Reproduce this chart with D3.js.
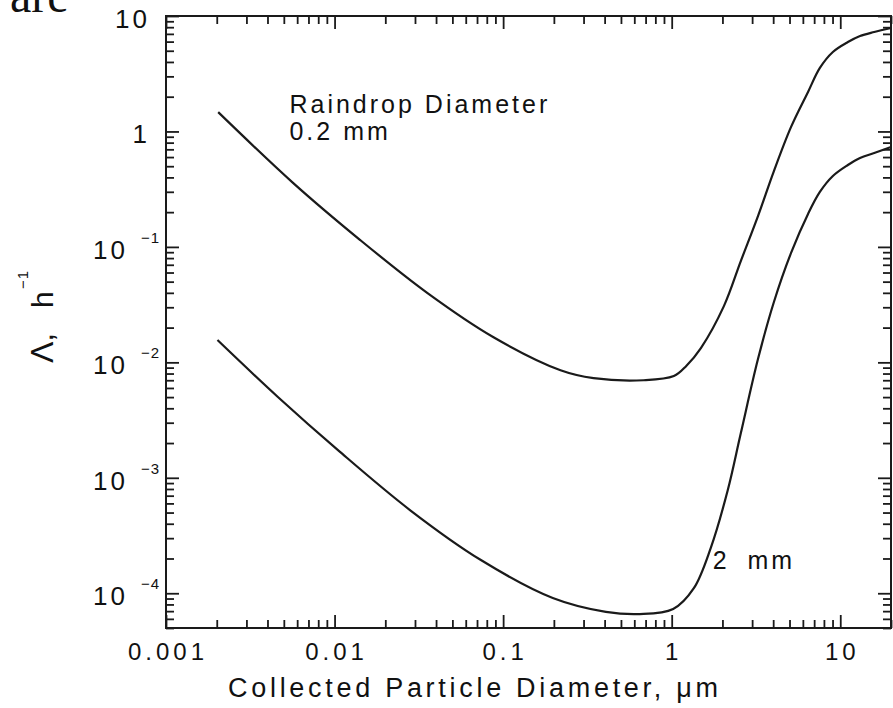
<!DOCTYPE html>
<html>
<head>
<meta charset="utf-8">
<script src="https://cdn.jsdelivr.net/npm/d3@7"></script>
<style>
    body { margin: 0; background: #fff; }
    svg { display: block; font-family: "Liberation Sans", Arial, sans-serif; }
    .frame { fill: none; stroke: #1a1a1a; stroke-width: 2; }
    .tick line { stroke: #1a1a1a; stroke-width: 1.8; }
    .curve { fill: none; stroke: #1a1a1a; stroke-width: 2.2; }
    text { fill: #111; }
</style>
</head>
<body>
<svg id="chart"></svg>
<script>
// axis ticks and labels
const xTickValues = [0.001, 0.01, 0.1, 1, 10];
const xTickLabels = ["0.001", "0.01", "0.1", "1", "10"];
const yTickValues = [10, 1, 0.1, 0.01, 0.001, 0.0001];
const yTickBase = ["10", "1", "10", "10", "10", "10"];
const yTickExp = ["", "", "−1", "−2", "−3", "−4"];

// 0.2 mm raindrop
const smallDropDiam = [0.00204, 0.00569, 0.0142, 0.0356, 0.0877, 0.219, 0.344, 0.682, 1.03, 1.22, 1.49, 2.04, 2.57, 3.25, 4.04, 5.10, 6.44, 7.57, 9.04, 11.1, 13.1, 15.9, 20];
const smallDropRate = [1.47, 0.357, 0.1146, 0.0398, 0.0165, 0.00855, 0.0073, 0.0070, 0.0076, 0.0093, 0.0133, 0.0307, 0.0753, 0.185, 0.454, 1.09, 2.20, 3.55, 4.88, 5.95, 6.71, 7.27, 7.87];

// 2 mm raindrop
const largeDropDiam = [0.00202, 0.00461, 0.0106, 0.0280, 0.0738, 0.197, 0.407, 0.647, 1.02, 1.35, 1.71, 2.15, 2.57, 3.25, 4.04, 5.10, 6.44, 7.57, 9.04, 11.1, 13.1, 15.9, 20];
const largeDropRate = [0.0156, 0.00501, 0.00171, 0.000526, 0.000194, 0.000091, 0.000069, 0.000066, 0.000073, 0.00011, 0.00025, 0.00078, 0.00243, 0.01067, 0.0333, 0.0883, 0.193, 0.299, 0.411, 0.512, 0.589, 0.65, 0.733];

class ScavengingChart {

    constructor(_config, _data) {
        this.config = {
            parentElement: _config.parentElement,
            containerWidth: _config.containerWidth || 893,
            containerHeight: _config.containerHeight || 708,
            margin: {top: 16, right: 2, bottom: 80, left: 166}
        }
        this.data = _data;
        this.initVis();
    }

    initVis() {
        let vis = this;
        let m = vis.config.margin;

        vis.width = vis.config.containerWidth - m.left - m.right;
        vis.height = vis.config.containerHeight - m.top - m.bottom;

        vis.xScale = d3.scaleLog()
            .domain([0.001, 20])
            .range([0, vis.width]);

        vis.yScale = d3.scaleLog()
            .domain([5e-5, 10])
            .range([vis.height, 0]);

        vis.svg = d3.select(vis.config.parentElement)
            .attr('width', vis.config.containerWidth)
            .attr('height', vis.config.containerHeight);

        // cut-off slide title at the top edge
        vis.svg.append('text')
            .attr('x', 10)
            .attr('y', 12)
            .style('font-family', '"Liberation Serif", serif')
            .style('font-size', '48px')
            .text('are');

        vis.chart = vis.svg.append('g')
            .attr('transform', `translate(${m.left},${m.top})`);

        vis.updateVis();
    }

    updateVis() {
        let vis = this;

        vis.xMinor = vis.xScale.ticks().filter(v => !xTickValues.some(t => Math.abs(t - v) / t < 1e-6));
        vis.yMinor = vis.yScale.ticks().filter(v => !yTickValues.some(t => Math.abs(t - v) / t < 1e-6));

        vis.renderVis();
    }

    renderVis() {
        let vis = this;
        const minorLen = 8, majorLen = 13;

        const addAxis = (axisFn, transform) => {
            [[vis.xMinor, vis.yMinor, minorLen], [xTickValues, yTickValues, majorLen]].forEach(([xv, yv, len]) => {
                const horizontal = axisFn === d3.axisBottom || axisFn === d3.axisTop;
                const scale = horizontal ? vis.xScale : vis.yScale;
                vis.chart.append('g')
                    .attr('transform', transform)
                    .call(axisFn(scale).tickValues(horizontal ? xv : yv).tickSize(-len).tickFormat(''))
                    .call(g => g.select('.domain').remove());
            });
        };

        addAxis(d3.axisBottom, `translate(0,${vis.height})`);
        addAxis(d3.axisTop, 'translate(0,0)');
        addAxis(d3.axisLeft, 'translate(0,0)');
        addAxis(d3.axisRight, `translate(${vis.width},0)`);

        vis.chart.append('rect')
            .attr('class', 'frame')
            .attr('width', vis.width)
            .attr('height', vis.height);

        // x tick labels
        vis.chart.selectAll('.x-label')
            .data(xTickValues)
            .join('text')
            .attr('class', 'x-label')
            .attr('x', d => vis.xScale(d) + 2)
            .attr('y', vis.height + 32)
            .attr('text-anchor', 'middle')
            .style('font-size', '24px')
            .style('letter-spacing', '4px')
            .text((d, i) => xTickLabels[i]);

        // y tick labels
        const yl = vis.chart.selectAll('.y-label')
            .data(yTickValues)
            .join('g')
            .attr('class', 'y-label')
            .attr('transform', d => `translate(0,${vis.yScale(d)})`);

        yl.append('text')
            .attr('x', (d, i) => yTickExp[i] ? -38 : -16)
            .attr('y', 12)
            .attr('text-anchor', 'end')
            .style('font-size', '26px')
            .style('letter-spacing', '3px')
            .text((d, i) => yTickBase[i]);

        yl.append('text')
            .attr('x', -25)
            .attr('y', -4)
            .style('font-size', '15px')
            .style('letter-spacing', '1px')
            .text((d, i) => yTickExp[i]);

        // curves
        const line = d3.line()
            .x(d => vis.xScale(d.x))
            .y(d => vis.yScale(d.y))
            .curve(d3.curveCatmullRom.alpha(0.5));

        vis.chart.selectAll('.curve')
            .data(vis.data)
            .join('path')
            .attr('class', 'curve')
            .attr('d', d => line(d.values));

        // curve annotations
        vis.chart.append('text')
            .attr('x', vis.xScale(0.0054))
            .attr('y', vis.yScale(1.445))
            .style('font-size', '25px')
            .style('letter-spacing', '3px')
            .text('Raindrop Diameter');

        vis.chart.append('text')
            .attr('x', vis.xScale(0.0054))
            .attr('y', vis.yScale(0.843))
            .style('font-size', '25px')
            .style('letter-spacing', '3px')
            .text('0.2 mm');

        vis.chart.append('text')
            .attr('x', vis.xScale(1.75))
            .attr('y', vis.yScale(1.62e-4))
            .style('font-size', '25px')
            .style('letter-spacing', '3px')
            .style('word-spacing', '8px')
            .text('2 mm');

        // axis titles
        vis.chart.append('text')
            .attr('x', 62)
            .attr('y', vis.height + 69)
            .attr('textLength', 490)
            .attr('lengthAdjust', 'spacing')
            .style('font-size', '27px')
            .text('Collected Particle Diameter, μm');

        const yTitle = vis.svg.append('g')
            .attr('transform', 'translate(53,0) rotate(-90)');

        yTitle.append('text')
            .attr('x', -363)
            .attr('y', 0)
            .style('font-size', '32px')
            .text('Λ,');

        yTitle.append('text')
            .attr('x', -308)
            .attr('y', 0)
            .style('font-size', '30px')
            .text('h');

        yTitle.append('text')
            .attr('x', -289)
            .attr('y', -25)
            .style('font-size', '15px')
            .style('letter-spacing', '1px')
            .text('−1');
    }
}

const chartData = [
    {name: '0.2 mm', values: smallDropDiam.map((x, i) => ({x: x, y: smallDropRate[i]}))},
    {name: '2 mm', values: largeDropDiam.map((x, i) => ({x: x, y: largeDropRate[i]}))}
];

new ScavengingChart({parentElement: '#chart'}, chartData);
</script>
</body>
</html>
